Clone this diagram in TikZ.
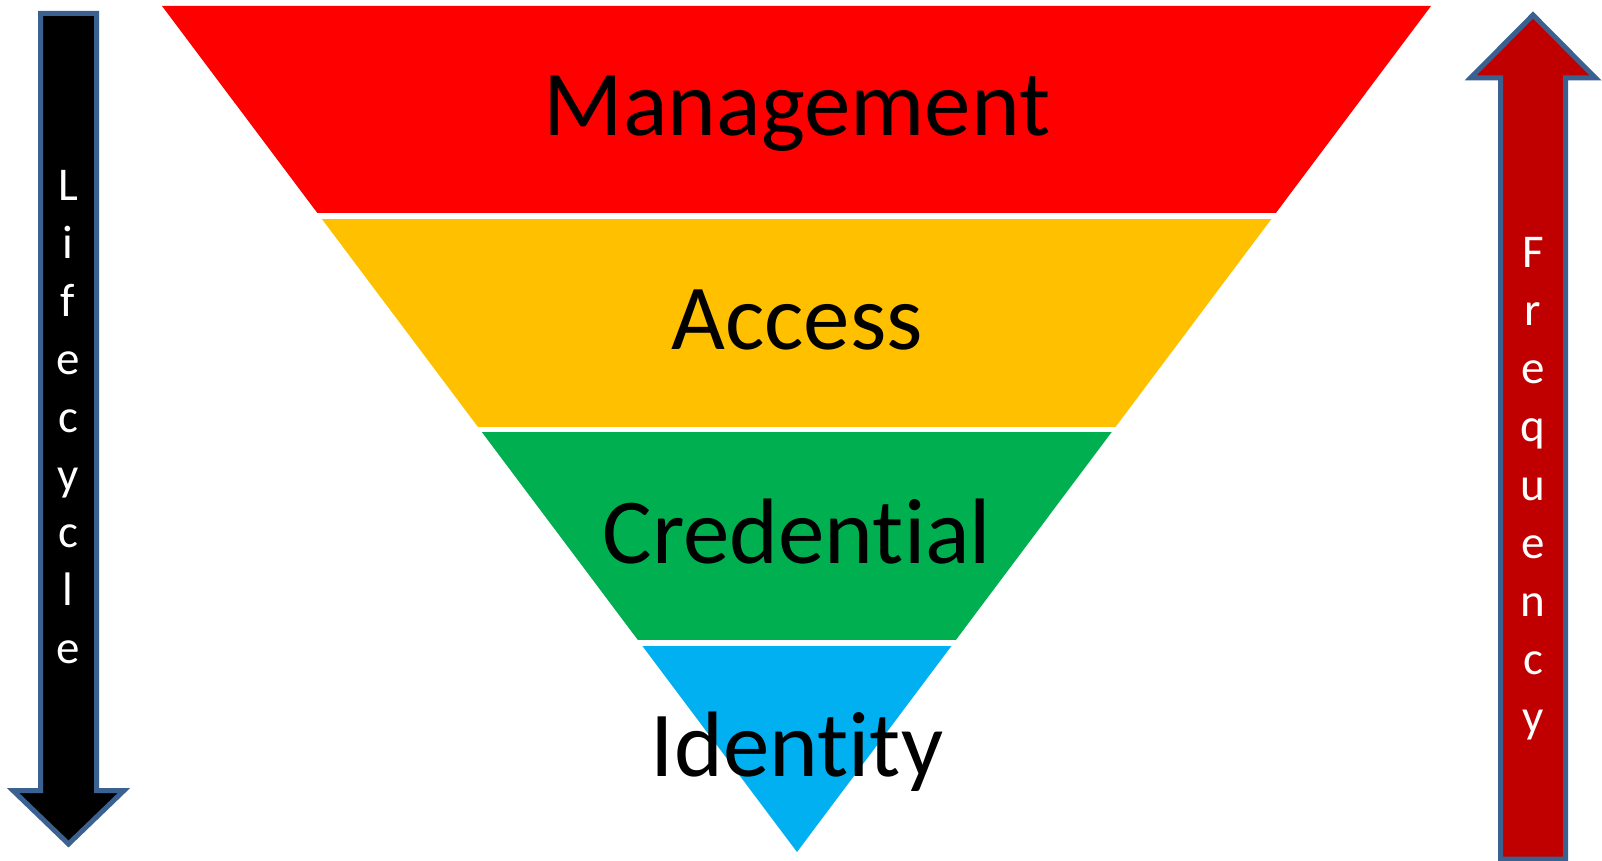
\documentclass[tikz,border=0pt]{standalone}
\usepackage{fontspec}
\setmainfont{Carlito}[Ligatures={NoCommon}]
\usetikzlibrary{calc}
\definecolor{mgmtred}{HTML}{FF0000}
\definecolor{accessyellow}{HTML}{FFC000}
\definecolor{credgreen}{HTML}{00B050}
\definecolor{idblue}{HTML}{00B0F0}
\definecolor{freqred}{HTML}{C00000}
\definecolor{arrowedge}{HTML}{3B6190}
\tikzset{
  layer/.style={anchor=base, inner sep=0pt, font=\fontsize{46.5}{56}\selectfont},
  arrowletter/.style={anchor=base, inner sep=0pt, text=white, font=\fontsize{23.5}{28}\selectfont},
  fatarrow/.style={draw=arrowedge, line width=2.5pt, line join=miter}
}

\begin{document}
\begin{tikzpicture}[x=0.5pt, y=-0.5pt]
    \useasboundingbox (0,0) rectangle (1602,861);
    \coordinate (TL) at (162,6);
    \coordinate (TR) at (1431,6);
    \coordinate (apex) at (797,852);
    % funnel, cut into four bands
    \begin{scope}
        \clip (TL) -- (TR) -- (apex) -- cycle;
        \fill[mgmtred] (0,0) rectangle (1602,213);
        \fill[accessyellow] (0,219) rectangle (1602,427);
        \fill[credgreen] (0,432) rectangle (1602,640);
        \fill[idblue] (0,646) rectangle (1602,861);
    \end{scope}
    \node[layer] (management) at (797,136) {Management};
    \node[layer] (access) at (797,350) {Access};
    \node[layer] (credential) at (797,563) {Credential};
    \node[layer] (identity) at (797,776) {Identity};
    % left arrow pointing down
    \draw[fatarrow, fill=black] (40.5,13.5) -- (96.5,13.5) -- (96.5,790.5) -- (124,790.5)
        -- (68.5,844) -- (13,790.5) -- (40.5,790.5) -- cycle;
    \foreach \ch [count=\i] in {L,i,f,e,c,y,c,l,e}
        \node[arrowletter] (lc\i) at (68,{201+57.8*(\i-1)}) {\ch};
    % right arrow pointing up
    \draw[fatarrow, fill=freqred] (1500.5,859) -- (1500.5,78) -- (1470.5,78) -- (1533,15)
        -- (1595.5,78) -- (1565.5,78) -- (1565.5,859) -- cycle;
    \foreach \ch [count=\i] in {F,r,e,q,u,e,n,c,y}
        \node[arrowletter] (fq\i) at (1533,{268+58*(\i-1)}) {\ch};
\end{tikzpicture}
\end{document}
